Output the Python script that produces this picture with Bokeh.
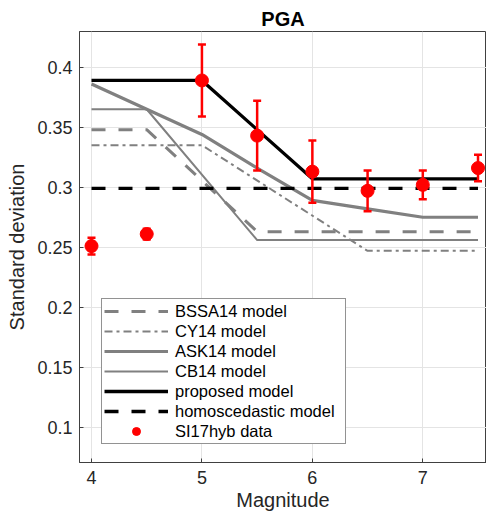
from bokeh.plotting import figure
from bokeh.models import Range1d, FixedTicker, Legend, LegendItem
from bokeh.embed import file_html
from bokeh.resources import INLINE

# ---- data ----
mag_data = [4.0, 4.5, 5.0, 5.5, 6.0, 6.5, 7.0, 7.5]
sd_data = [0.251, 0.261, 0.389, 0.343, 0.313, 0.297, 0.302, 0.316]
sd_err = [0.007, 0.0045, 0.030, 0.029, 0.026, 0.017, 0.012, 0.011]

bssa_m = [4.0, 4.5, 5.5, 7.5]
bssa_sd = [0.348, 0.348, 0.263, 0.263]

cy_m = [4.0, 5.0, 6.5, 7.5]
cy_sd = [0.335, 0.335, 0.247, 0.247]

ask_m = [4.0, 4.5, 5.0, 5.5, 6.0, 6.5, 7.0, 7.5]
ask_sd = [0.386, 0.365, 0.344, 0.316, 0.289, 0.282, 0.275, 0.275]

cb_m = [4.0, 4.5, 5.5, 7.5]
cb_sd = [0.365, 0.365, 0.256, 0.256]

prop_m = [4.0, 5.0, 6.0, 7.5]
prop_sd = [0.389, 0.389, 0.307, 0.307]

homo_m = [4.0, 7.5]
homo_sd = [0.299, 0.299]

x_ticks = [4, 5, 6, 7]
y_ticks = [0.1, 0.15, 0.2, 0.25, 0.3, 0.35, 0.4]
y_tick_labels = ["0.1", "0.15", "0.2", "0.25", "0.3", "0.35", "0.4"]

labels = ["BSSA14 model", "CY14 model", "ASK14 model", "CB14 model",
          "proposed model", "homoscedastic model", "SI17hyb data"]

FONT = "Liberation Sans"
TXT = "#262626"
GRAY = "#808080"

p = figure(width=486, height=516, output_backend="svg", toolbar_location=None,
           x_range=Range1d(3.8913, 7.5769), y_range=Range1d(0.0706, 0.4298),
           min_border_left=79, min_border_right=0, min_border_top=31,
           min_border_bottom=54, title="PGA")

p.outline_line_color = "#404040"
p.outline_line_width = 1
p.background_fill_color = "white"
p.border_fill_color = "white"

p.title.text_font = FONT
p.title.text_font_size = "20px"
p.title.text_font_style = "bold"
p.title.text_color = "black"
p.title.align = "center"
p.title.offset = 39
p.title.standoff = 4

for ax in (p.xaxis[0], p.yaxis[0]):
    ax.major_tick_in = 4
    ax.major_tick_out = 0
    ax.minor_tick_line_color = None
    ax.axis_line_color = "#404040"
    ax.major_tick_line_color = "#404040"
    ax.major_label_text_font = FONT
    ax.major_label_text_font_size = "18px"
    ax.major_label_text_color = TXT
    ax.axis_label_text_font = FONT
    ax.axis_label_text_font_size = "20px"
    ax.axis_label_text_font_style = "normal"
    ax.axis_label_text_color = TXT

p.xaxis.ticker = FixedTicker(ticks=x_ticks)
p.yaxis.ticker = FixedTicker(ticks=y_ticks)
p.yaxis.major_label_overrides = dict(zip(y_ticks, y_tick_labels))
p.xaxis.axis_label = "Magnitude"
p.yaxis.axis_label = "Standard deviation"
p.xaxis.major_label_standoff = 8
p.yaxis.major_label_standoff = 7
p.xaxis.axis_label_standoff = 2
p.yaxis.axis_label_standoff = 6

p.xgrid.ticker = FixedTicker(ticks=x_ticks)
p.ygrid.ticker = FixedTicker(ticks=y_ticks)
p.grid.grid_line_color = "#e4e4e4"
p.grid.grid_line_width = 1

r_bssa = p.line(bssa_m, bssa_sd, line_color=GRAY, line_width=3, line_dash="14 13")
r_cy = p.line(cy_m, cy_sd, line_color=GRAY, line_width=2, line_dash="8 4 3 4")
r_ask = p.line(ask_m, ask_sd, line_color=GRAY, line_width=3.2)
r_cb = p.line(cb_m, cb_sd, line_color=GRAY, line_width=2)
r_prop = p.line(prop_m, prop_sd, line_color="black", line_width=3.3)
r_homo = p.line(homo_m, homo_sd, line_color="black", line_width=3.3, line_dash="14 13")

upper = [v + e for v, e in zip(sd_data, sd_err)]
lower = [v - e for v, e in zip(sd_data, sd_err)]
p.segment(x0=mag_data, y0=lower, x1=mag_data, y1=upper, line_color="red", line_width=2.5)
p.scatter(mag_data, upper, marker="dash", size=8, line_color="red", line_width=2.5)
p.scatter(mag_data, lower, marker="dash", size=8, line_color="red", line_width=2.5)
r_data = p.scatter(mag_data, sd_data, marker="circle", size=13, fill_color="red",
                   line_color="red")

renderers = [r_bssa, r_cy, r_ask, r_cb, r_prop, r_homo, r_data]
legend = Legend(items=[LegendItem(label=l, renderers=[r]) for l, r in zip(labels, renderers)],
                location=(22, 18), padding=2, spacing=0, label_height=20, glyph_height=20,
                glyph_width=64, label_standoff=7, label_width=168,
                label_text_font=FONT, label_text_font_size="16.5px", label_text_color="black",
                border_line_color=TXT, border_line_width=1, background_fill_color="white",
                background_fill_alpha=1.0, margin=0)
p.add_layout(legend)

open("out.html", "w").write(file_html(p, INLINE))
